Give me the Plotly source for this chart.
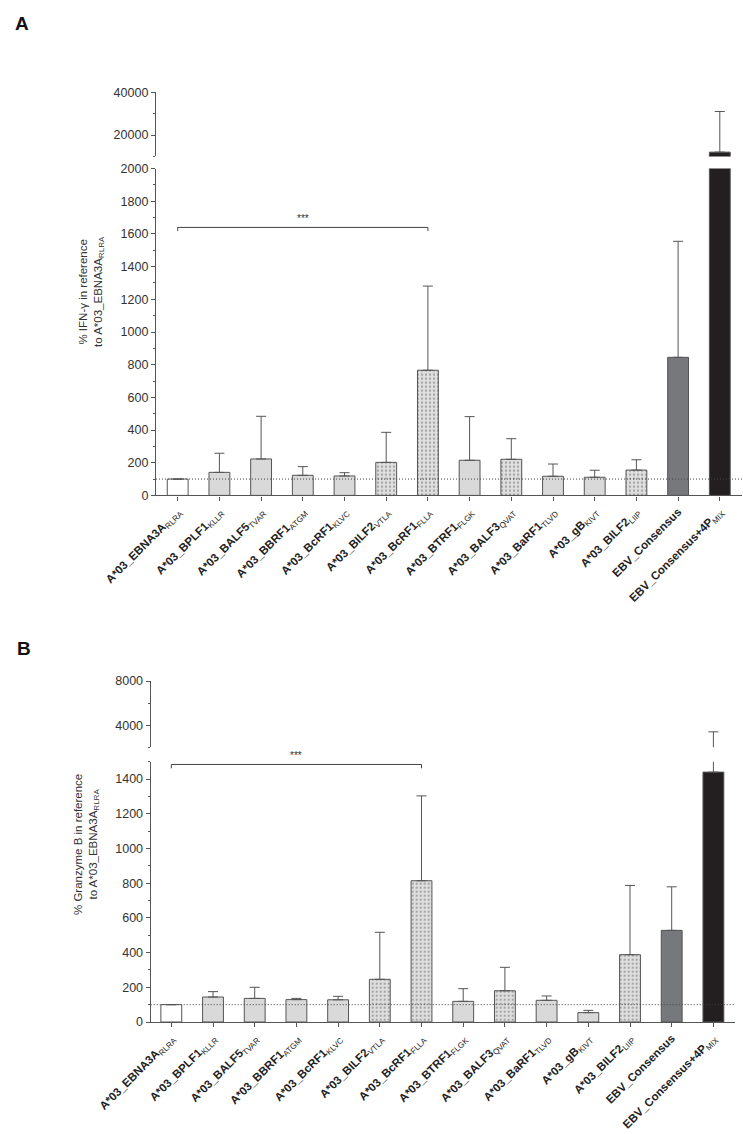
import plotly.graph_objects as go

W, H = 743, 1134

# ---------------- data ----------------
categories = [
    "A*03_EBNA3A|RLRA", "A*03_BPLF1|KLLR", "A*03_BALF5|TVAR", "A*03_BBRF1|ATGM",
    "A*03_BcRF1|KLVC", "A*03_BILF2|VTLA", "A*03_BcRF1|FLLA", "A*03_BTRF1|FLGK",
    "A*03_BALF3|QVAT", "A*03_BaRF1|TLVD", "A*03_gB|KIVT", "A*03_BILF2|LIIP",
    "EBV_Consensus|", "EBV_Consensus+4P|MIX",
]
tick_labels = [
    "<b>" + c.split("|")[0] + "</b>" + ("<sub>" + c.split("|")[1] + "</sub>" if c.split("|")[1] else "")
    for c in categories
]

ifn_mean = [100, 141, 223, 123, 119, 202, 766, 215, 221, 117, 111, 155, 845, 12000]
ifn_sd = [None, 117, 261, 53, 20, 184, 515, 267, 126, 75, 43, 63, 710, 19000]

gzb_mean = [100, 144, 136, 129, 128, 246, 814, 119, 180, 125, 54, 388, 528, 1440]
gzb_sd = [None, 31, 64, 7, 20, 271, 489, 73, 135, 25, 13, 399, 251, 1960]

ifn_low_ticks = list(range(0, 2001, 200))
ifn_high_ticks = [20000, 40000]
gzb_low_ticks = list(range(0, 1401, 200))
gzb_high_ticks = [4000, 8000]

bar_colors = ["#ffffff", "#d9d9d9", "#d9d9d9", "#d9d9d9", "#d9d9d9", "#dedede", "#dedede",
              "#d9d9d9", "#dedede", "#d9d9d9", "#d9d9d9", "#dedede", "#77787b", "#231f20"]
bar_patterns = ["", "", "", "", "", ".", ".", "", ".", "", "", ".", "", ""]

reference_level = 100
sig_a = (0, 6, 1640)
sig_b = (0, 6, 1484)

x_idx = list(range(len(categories)))

AX = "#555555"
TXT = "#333333"
FONT = "Liberation Sans, Arial, sans-serif"


def px_x(p):
    return p / W


def px_y(p):
    return 1 - p / H


def bar_trace(means, sds, xa, ya):
    return go.Bar(
        x=x_idx, y=means, xaxis=xa, yaxis=ya, width=0.5,
        marker=dict(
            color=bar_colors,
            line=dict(color="#555555", width=1),
            pattern=dict(shape=bar_patterns, fillmode="overlay", fgcolor="#6a6a6a",
                         size=4, solidity=0.2),
        ),
        error_y=dict(type="data", symmetric=False, array=sds, arrayminus=[0] * len(sds),
                     color="#555555", thickness=1, width=5),
        showlegend=False, hoverinfo="skip",
    )


fig = go.Figure()
fig.add_trace(bar_trace(ifn_mean, ifn_sd, "x", "y"))
fig.add_trace(bar_trace(ifn_mean, ifn_sd, "x2", "y2"))
fig.add_trace(bar_trace(gzb_mean, gzb_sd, "x3", "y3"))
fig.add_trace(bar_trace(gzb_mean, gzb_sd, "x4", "y4"))

# geometry (pixels)
A_left, A_right = 156, 742
A_x0, step = 177.7, 41.7
B_left, B_right = 150.7, 735
B_x0 = 171.3

A_rng = [-(A_x0 - A_left) / step, (A_right - A_x0) / step]
B_rng = [-(B_x0 - B_left) / step, (B_right - B_x0) / step]

tickfont = dict(family=FONT, size=12.5, color=TXT)
xtickfont = dict(family=FONT, size=11.5, color="#222222")

common_y = dict(showline=True, linecolor=AX, linewidth=1.3, ticks="outside", tickcolor=AX,
                ticklen=4, tickwidth=1.2, showgrid=False, zeroline=False, automargin=False,
                tickfont=tickfont, tickmode="array")

fig.update_layout(
    width=W, height=H, template="none",
    margin=dict(l=0, r=0, t=0, b=0),
    paper_bgcolor="white", plot_bgcolor="rgba(0,0,0,0)",
    bargap=0.5, showlegend=False,
    font=dict(family=FONT, color=TXT),
    # panel A
    xaxis=dict(domain=[px_x(A_left), px_x(A_right)], range=A_rng, anchor="y",
               tickvals=x_idx, ticktext=tick_labels, tickangle=-45, tickfont=xtickfont,
               showline=True, linecolor=AX, linewidth=1.3, ticks="outside", tickcolor=AX,
               ticklen=4, showgrid=False, zeroline=False, automargin=False),
    xaxis2=dict(domain=[px_x(A_left), px_x(A_right)], range=A_rng, anchor="y2",
                matches="x", visible=False),
    yaxis=dict(domain=[px_y(495.4), px_y(168.6)], range=[0, 2000], anchor="x",
               tickvals=ifn_low_ticks, ticktext=[str(v) for v in ifn_low_ticks],
               minor=dict(dtick=100, ticks="outside", ticklen=2, tickcolor=AX),
               **common_y),
    yaxis2=dict(domain=[px_y(156.4), px_y(92.3)], range=[10000, 40000], anchor="x2",
                tickvals=ifn_high_ticks, ticktext=[str(v) for v in ifn_high_ticks],
                minor=dict(tickmode="array", tickvals=[10000, 30000], ticks="outside",
                           ticklen=2, tickcolor=AX),
                **common_y),
    # panel B
    xaxis3=dict(domain=[px_x(B_left), px_x(B_right)], range=B_rng, anchor="y3",
                tickvals=x_idx, ticktext=tick_labels, tickangle=-45, tickfont=xtickfont,
                showline=True, linecolor=AX, linewidth=1.3, ticks="outside", tickcolor=AX,
                ticklen=4, showgrid=False, zeroline=False, automargin=False),
    xaxis4=dict(domain=[px_x(B_left), px_x(B_right)], range=B_rng, anchor="y4",
                matches="x3", visible=False),
    yaxis3=dict(domain=[px_y(1022), px_y(761.7)], range=[0, 1500], anchor="x3",
                tickvals=gzb_low_ticks, ticktext=[str(v) for v in gzb_low_ticks],
                minor=dict(dtick=100, ticks="outside", ticklen=2, tickcolor=AX),
                **common_y),
    yaxis4=dict(domain=[px_y(747.3), px_y(681)], range=[2000, 8000], anchor="x4",
                tickvals=gzb_high_ticks, ticktext=[str(v) for v in gzb_high_ticks],
                minor=dict(tickmode="array", tickvals=[2000, 6000], ticks="outside",
                           ticklen=2, tickcolor=AX),
                **common_y),
)

# reference dotted lines
for xr, yr in (("x domain", "y"), ("x3 domain", "y3")):
    fig.add_shape(type="line", xref=xr, yref=yr, x0=0, x1=1, y0=reference_level,
                  y1=reference_level, line=dict(color="#444444", width=1, dash="1px,2px"),
                  layer="above")

# significance brackets
for (a, b, lvl), xr, yr, drop in ((sig_a, "x", "y", 22), (sig_b, "x3", "y3", 22)):
    fig.add_shape(type="path", xref=xr, yref=yr,
                  path=f"M {a},{lvl - drop} L {a},{lvl} L {b},{lvl} L {b},{lvl - drop}",
                  line=dict(color="#444444", width=1))
    fig.add_annotation(x=(a + b) / 2, y=lvl, xref=xr, yref=yr, text="***", showarrow=False,
                       yanchor="bottom", yshift=1, font=dict(family=FONT, size=10, color=TXT))

# y titles
TA = (91, 292)
TB = (86, 845)
fig.add_annotation(x=px_x(TA[0]), y=px_y(TA[1]), xref="paper", yref="paper", textangle=-90,
                   xanchor="center", yanchor="middle",
                   text="% IFN-γ in reference<br>to A*03_EBNA3A<sub>RLRA</sub>",
                   showarrow=False, font=dict(family=FONT, size=11.5, color=TXT))
fig.add_annotation(x=px_x(TB[0]), y=px_y(TB[1]), xref="paper", yref="paper", textangle=-90,
                   xanchor="center", yanchor="middle",
                   text="% Granzyme B in reference<br>to A*03_EBNA3A<sub>RLRA</sub>",
                   showarrow=False, font=dict(family=FONT, size=11.5, color=TXT))

# panel letters
fig.add_annotation(x=px_x(13), y=px_y(11), xref="paper", yref="paper", text="<b>A</b>",
                   showarrow=False, font=dict(family=FONT, size=19, color="#111111"))
fig.add_annotation(x=px_x(14.5), y=px_y(648.5), xref="paper", yref="paper", text="<b>B</b>",
                   showarrow=False, font=dict(family=FONT, size=19, color="#111111"))

fig.write_html("out.html", config={"displayModeBar": False},
               post_script="document.body.style.margin='0';")
